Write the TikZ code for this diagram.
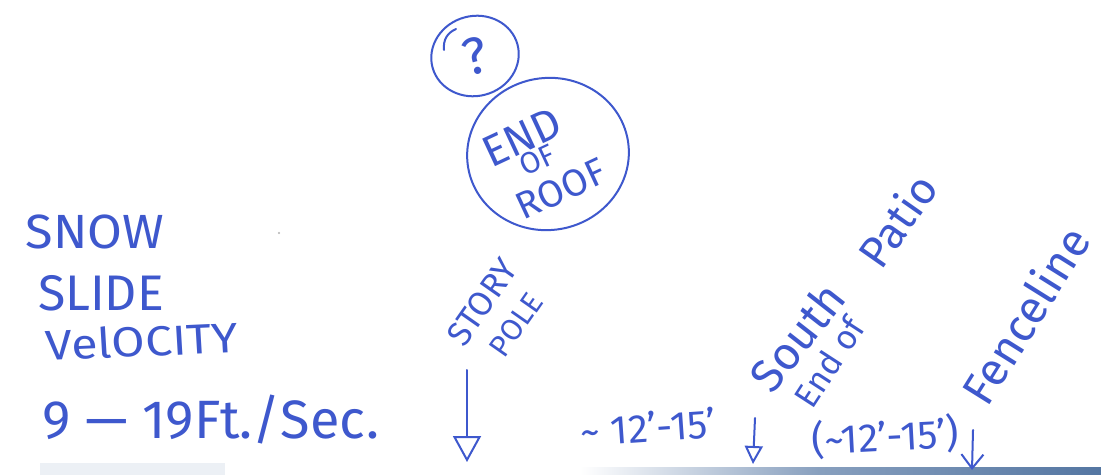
\documentclass[tikz,border=0pt]{standalone}
\usepackage{fontspec}
\setmainfont{Fira Sans}
\usetikzlibrary{shapes.geometric,arrows.meta}
\definecolor{ink}{RGB}{62,88,205}
\definecolor{scanblue}{RGB}{84,118,162}
\definecolor{scangray}{RGB}{214,222,234}
\tikzset{
  pen/.style={draw=ink, line width=1pt, line cap=round, line join=round},
  script/.style={text=ink, inner sep=0pt, font=\fontsize{#1}{#1}\selectfont},
  bubble/.style={pen, ellipse, inner sep=0pt},
}
\begin{document}
\begin{tikzpicture}[x=0.5pt, y=-0.5pt]
\useasboundingbox (0,0) rectangle (1101,475);
\fill[white] (0,0) rectangle (1101,475);

% scanner edge along the bottom
\fill[scangray, opacity=0.45] (40,463) rectangle (225,475);
\shade[left color=white, right color=scanblue!70] (580,467) rectangle (820,475);
\shade[left color=scanblue!70, right color=scanblue] (820,467) rectangle (1101,475);
\fill[gray!60] (279,233) circle (1.2);

% bubbles
\node[bubble, minimum width=44pt, minimum height=40pt, rotate=15, script=26] (q) at (475,56) {?};
\draw[pen] (444,50) .. controls (443,40) and (447,33) .. (456,29);
\node[bubble, minimum width=81pt, minimum height=76pt, rotate=10] (roof) at (548,154) {};
\node[script=22, rotate=25] (end) at (522,137) {END};
\node[script=15, rotate=25] (of) at (537,160) {OF};
\node[script=19, rotate=25] (rf) at (561,189) {ROOF};

% left-hand notes
\node[script=24, xscale=1.05] (snow) at (95,232) {SNOW};
\node[script=25] (slide) at (101,293) {SLIDE};
\node[script=21, xscale=1.15, rotate=3] (vel) at (142,341) {VelOCITY};
\node[script=27] (speed) at (211,420) {9 — 19Ft./Sec.};

% story pole
\node[script=17, rotate=55] (story) at (482,302) {STORY};
\node[script=15, rotate=55] (pole) at (516,325) {POLE};
\coordinate (p1) at (467,370);
\coordinate (p1e) at (467,462);
\draw[pen, -{Triangle[open, length=13pt, width=14pt, line width=1pt]}] (p1) -- (p1e);

% first spacing
\node[script=20, rotate=4] (d1) at (648,427) {\textasciitilde\ 12'-15'};

% south end of patio
\node[script=23, rotate=52] (south) at (797,337) {South};
\node[script=22, rotate=55] (patio) at (897,220) {Patio};
\node[script=17, rotate=57] (endof) at (829,362) {End of};
\coordinate (p2) at (755,418);
\coordinate (p2e) at (753,464);
\draw[pen, -{Triangle[open, length=9pt, width=9pt, line width=1pt]}] (p2) -- (p2e);

% second spacing
\node[script=20, rotate=3] (d2) at (885,437) {(\textasciitilde12'-15')};

% fence line
\node[script=23, rotate=58] (fence) at (1025,315) {Fenceline};
\coordinate (p3) at (973,430);
\coordinate (p3e) at (972,470);
\draw[pen, -{Straight Barb[length=7pt, width=11pt, line width=1pt]}] (p3) -- (p3e);
\end{tikzpicture}
\end{document}
